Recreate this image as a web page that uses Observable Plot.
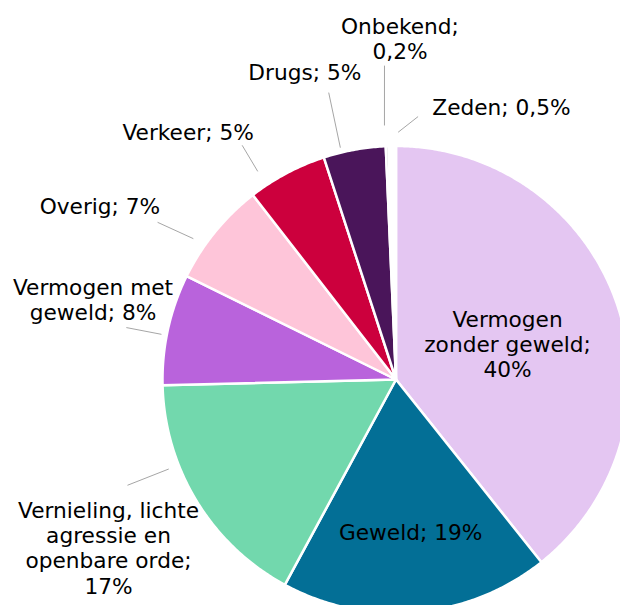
<!DOCTYPE html>
<html>
<head>
<meta charset="utf-8">
<script src="https://cdn.jsdelivr.net/npm/d3@7"></script>
<script src="https://cdn.jsdelivr.net/npm/@observablehq/plot@0.6"></script>
<style>
  html, body { margin: 0; padding: 0; background: #fff; }
  #chart svg { display: block; }
</style>
</head>
<body>
<div id="chart"></div>
<script>
// ---- data ----
const categories = ["Vermogen zonder geweld", "Geweld", "Vernieling, lichte agressie en openbare orde",
  "Vermogen met geweld", "Overig", "Verkeer", "Drugs", "Onbekend", "Zeden"];
const values = [39.3, 18.6, 16.7, 7.7, 7.2, 5.5, 4.3, 0.2, 0.5];
const labelTexts = ["Vermogen\nzonder geweld;\n40%", "Geweld; 19%",
  "Vernieling, lichte\nagressie en\nopenbare orde;\n17%", "Vermogen met\ngeweld; 8%",
  "Overig; 7%", "Verkeer; 5%", "Drugs; 5%", "Onbekend;\n0,2%", "Zeden; 0,5%"];
const colors = ["#e4c6f2", "#036f96", "#72d8ad", "#b963dc", "#fec5d9", "#cc003d", "#4a155a", "#bfbfbf", "#ffffff"];

// ---- layout (polar: angle in degrees clockwise from 12 o'clock, radius as fraction of pie radius) ----
const W = 620, H = 605;
const cx = 395.5, cy = 379, R = 233.5;
const fontSize = 21.7;
const labelPolar = [[72.25, 0.5015], [174.5, 0.654], [239.7, 1.426], [284.8, 1.342], [300.4, 1.47],
  [320.0, 1.385], [343.5, 1.374], [0.67, 1.461], [21.15, 1.252]];
const leaderPolar = [null, null, [248.5, 1.046, 248.5, 1.236], [280.9, 1.023, 280.9, 1.176],
  [304.8, 1.057, 303.4, 1.223], [326.4, 1.07, 326.7, 1.2], [346.5, 1.021, 346.8, 1.262],
  [357.4, 1.089, 357.9, 1.345], [0.5, 1.059, 4.8, 1.13]];

const rad = d => d * Math.PI / 180;
const px = (a, r) => r * Math.sin(a);
const py = (a, r) => -r * Math.cos(a);

// slices from d3.pie
const arcs = d3.pie().sort(null).value(d => d)(values);
const slicePts = [];
arcs.forEach((a, i) => {
  const steps = Math.max(2, Math.ceil((a.endAngle - a.startAngle) / rad(0.5)));
  slicePts.push({k: i, x: 0, y: 0, c: colors[i]});
  for (let s = 0; s <= steps; s++) {
    const t = a.startAngle + (a.endAngle - a.startAngle) * s / steps;
    slicePts.push({k: i, x: px(t, 1), y: py(t, 1), c: colors[i]});
  }
  slicePts.push({k: i, x: 0, y: 0, c: colors[i]});
});

const labels = labelTexts.map((t, i) => ({
  text: t,
  x: px(rad(labelPolar[i][0]), labelPolar[i][1]),
  y: py(rad(labelPolar[i][0]), labelPolar[i][1])
}));
const leaders = leaderPolar.filter(d => d).map(d => ({
  x1: px(rad(d[0]), d[1]), y1: py(rad(d[0]), d[1]),
  x2: px(rad(d[2]), d[3]), y2: py(rad(d[2]), d[3])
}));

const chart = Plot.plot({
  width: W, height: H,
  margin: 0,
  style: {fontFamily: "'DejaVu Sans', Verdana, sans-serif", background: "#fff"},
  x: {domain: [-cx / R, (W - cx) / R], range: [0, W], axis: null},
  y: {domain: [-cy / R, (H - cy) / R], range: [0, H], axis: null},
  color: {type: "identity"},
  marks: [
    Plot.line(slicePts, {x: "x", y: "y", z: "k", fill: "c", stroke: "#ffffff", strokeWidth: 2.5,
      strokeLinejoin: "round", curve: "linear"}),
    Plot.link(leaders, {x1: "x1", y1: "y1", x2: "x2", y2: "y2", stroke: "#a6a6a6", strokeWidth: 1}),
    Plot.text(labels, {x: "x", y: "y", text: "text", fontSize: fontSize, lineHeight: 25.3 / fontSize,
      textAnchor: "middle", lineAnchor: "middle", fill: "#000000"})
  ]
});
document.getElementById("chart").appendChild(chart);
</script>
</body>
</html>
